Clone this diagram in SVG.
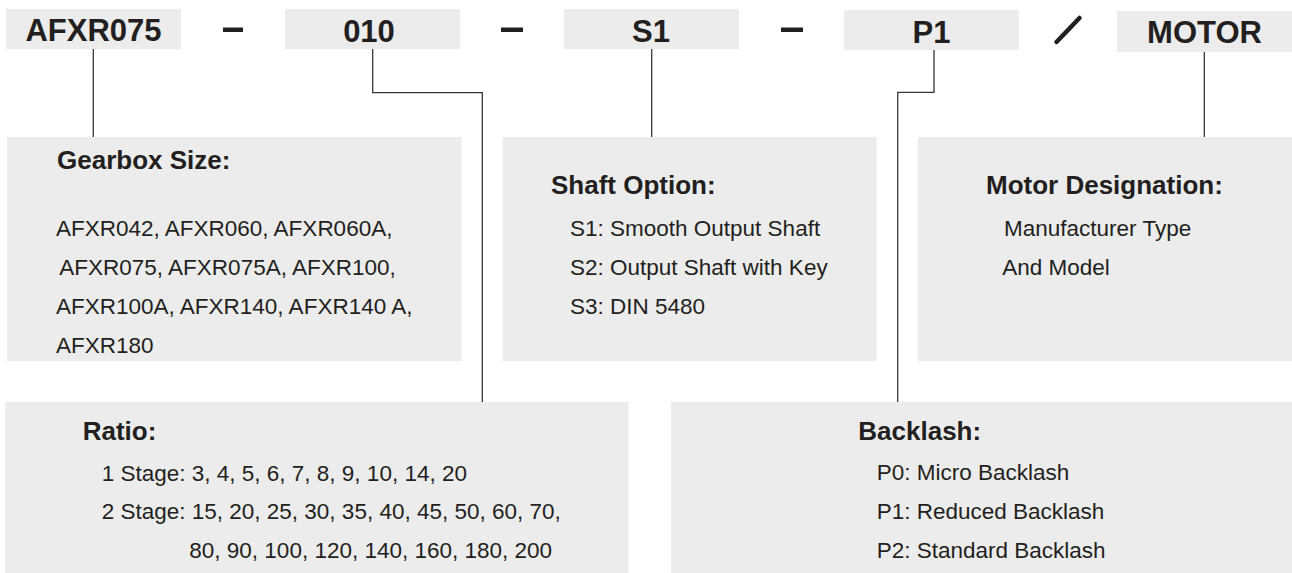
<svg xmlns="http://www.w3.org/2000/svg" width="1292" height="573" viewBox="0 0 1292 573">
<style>
.box{fill:#ececec}
.code{font-family:"Liberation Sans",Arial,sans-serif;font-weight:bold;font-size:31px;fill:#231f20;text-anchor:middle}
.hd{font-family:"Liberation Sans",Arial,sans-serif;font-weight:bold;font-size:26px;fill:#231f20}
.tx{font-family:"Liberation Sans",Arial,sans-serif;font-size:22.5px;fill:#231f20}
.ln{fill:none;stroke:#3a3636;stroke-width:1.3}
.sep{fill:#231f20}
</style>
<rect width="1292" height="573" fill="#ffffff"/>
<g id="code-size">
<rect class="box" x="6" y="9" width="175" height="40"/>
<text class="code" x="93.5" y="41">AFXR075</text>
</g>
<g id="code-ratio">
<rect class="box" x="285" y="9" width="175" height="40"/>
<text class="code" x="369" y="41.5">010</text>
</g>
<g id="code-shaft">
<rect class="box" x="564" y="9" width="175" height="40"/>
<text class="code" x="651" y="41.5">S1</text>
</g>
<g id="code-backlash">
<rect class="box" x="844" y="10" width="175" height="40"/>
<text class="code" x="931.5" y="42.5">P1</text>
</g>
<g id="code-motor">
<rect class="box" x="1117" y="11" width="175" height="41"/>
<text class="code" x="1204.5" y="43">MOTOR</text>
</g>
<g id="separators">
<rect class="sep" x="223" y="27.5" width="20" height="4.5"/>
<rect class="sep" x="501" y="27.5" width="22" height="4.5"/>
<rect class="sep" x="781" y="27.5" width="22" height="4.5"/>
<line x1="1056.5" y1="42" x2="1079.5" y2="18" stroke="#231f20" stroke-width="4.5" stroke-linecap="round"/>
</g>
<g id="connectors">
<path class="ln" d="M93.3,49 V137"/>
<path class="ln" d="M372.7,49 V92.7 H482.3 V402"/>
<path class="ln" d="M651.7,49 V137"/>
<path class="ln" d="M934,50 V92.3 H897.7 V402"/>
<path class="ln" d="M1204.3,52 V137"/>
</g>
<g id="gearbox-size">
<rect class="box" x="7" y="137" width="454.7" height="224"/>
<text class="hd" x="57" y="169">Gearbox Size:</text>
<text class="tx" x="56" y="236">AFXR042, AFXR060, AFXR060A,</text>
<text class="tx" x="59.3" y="274.5">AFXR075, AFXR075A, AFXR100,</text>
<text class="tx" x="56" y="313.5">AFXR100A, AFXR140, AFXR140 A,</text>
<text class="tx" x="56" y="352.5">AFXR180</text>
</g>
<g id="shaft-option">
<rect class="box" x="502.7" y="137" width="374" height="224"/>
<text class="hd" x="551" y="194.3">Shaft Option:</text>
<text class="tx" x="570" y="236">S1: Smooth Output Shaft</text>
<text class="tx" x="570" y="274.5">S2: Output Shaft with Key</text>
<text class="tx" x="570" y="313.5">S3: DIN 5480</text>
</g>
<g id="motor-designation">
<rect class="box" x="917.7" y="137" width="374.3" height="224"/>
<text class="hd" x="986" y="194.3">Motor Designation:</text>
<text class="tx" x="1004" y="236">Manufacturer Type</text>
<text class="tx" x="1002.3" y="274.5">And Model</text>
</g>
<g id="ratio">
<rect class="box" x="5" y="402" width="623.6" height="171"/>
<text class="hd" x="82.7" y="440">Ratio:</text>
<text class="tx" x="101.7" y="480.5">1 Stage: 3, 4, 5, 6, 7, 8, 9, 10, 14, 20</text>
<text class="tx" x="101.7" y="519.3">2 Stage: 15, 20, 25, 30, 35, 40, 45, 50, 60, 70,</text>
<text class="tx" x="189.3" y="558.3">80, 90, 100, 120, 140, 160, 180, 200</text>
</g>
<g id="backlash">
<rect class="box" x="671" y="402" width="621" height="171"/>
<text class="hd" x="858.3" y="440">Backlash:</text>
<text class="tx" x="876.7" y="480">P0: Micro Backlash</text>
<text class="tx" x="876.7" y="518.5">P1: Reduced Backlash</text>
<text class="tx" x="876.7" y="558.3">P2: Standard Backlash</text>
</g>
</svg>
